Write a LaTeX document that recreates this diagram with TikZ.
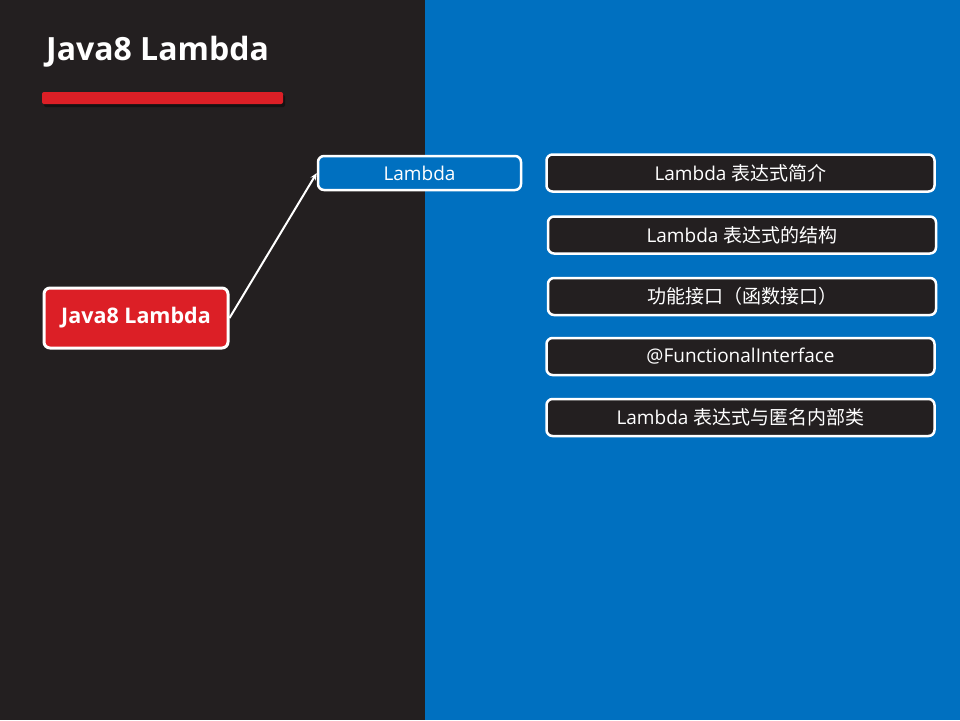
\documentclass[tikz,border=0pt]{standalone}
\usepackage{fontspec}
\setmainfont{Open Sans}
\newfontfamily\cjk{Noto Sans CJK SC}
\usetikzlibrary{arrows.meta}
\definecolor{panelgray}{RGB}{35,31,32}
\definecolor{panelblue}{RGB}{0,112,192}
\definecolor{lambdared}{RGB}{220,31,38}
\tikzset{
  topic/.style={draw=white, line width=2.5pt, rounded corners=6pt, text=white,
    inner sep=0pt, font=\fontsize{19}{22}\selectfont},
  subtopic/.style={topic, fill=panelgray, minimum width=388pt, minimum height=37pt},
  link/.style={draw=white, line width=2pt, -{Stealth[length=7pt,width=6pt]}}
}

\begin{document}
\begin{tikzpicture}[x=1pt,y=1pt,yscale=-1]
%background panels
\fill[panelgray] (0,0) rectangle (425,720);
\fill[panelblue] (425,0) rectangle (960,720);
\useasboundingbox (0,0) rectangle (960,720);

%title and red bar
\node[anchor=west, inner sep=0pt, text=white, font=\bfseries\fontsize{32}{38}\selectfont] (title) at (46,52) {Java8 Lambda};
\fill[black, opacity=0.4, rounded corners=2pt] (44,95) rectangle (285,107);
\fill[lambdared, rounded corners=2pt] (42,92) rectangle (283,104);

%root and first level
\node[topic, fill=lambdared, line width=3pt, minimum width=184pt, minimum height=60pt,
  font=\bfseries\fontsize{21.5}{25}\selectfont] (java) at (136,318) {Java8 Lambda};
\node[topic, fill=panelblue, minimum width=203pt, minimum height=34pt] (lambda) at (419.5,173) {Lambda};
\draw[link] (java.east) -- (lambda.west);

%second level
\node[subtopic] (intro) at (740.5,173) {Lambda {\cjk 表达式简介}};
\node[subtopic] (struct) at (742,235) {Lambda {\cjk 表达式的结构}};
\node[subtopic] (funcif) at (742,296.5) {{\cjk 功能接口（函数接口）}};
\node[subtopic] (annot) at (740.5,356.5) {@FunctionalInterface};
\node[subtopic] (anon) at (740.5,417.5) {Lambda {\cjk 表达式与匿名内部类}};

\end{tikzpicture}
\end{document}
